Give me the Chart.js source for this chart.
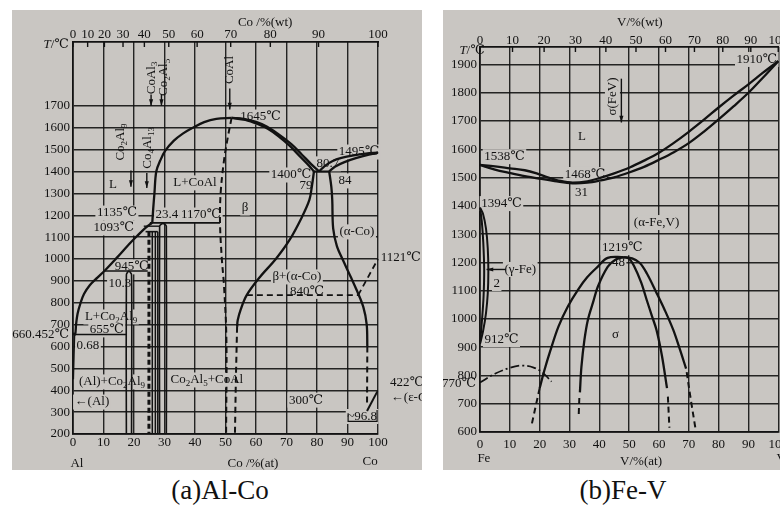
<!DOCTYPE html>
<html>
<head>
<meta charset="utf-8">
<script src="https://cdn.jsdelivr.net/npm/chart.js"></script>
<style>
  html, body { margin: 0; padding: 0; }
  body { width: 780px; height: 507px; overflow: hidden; position: relative; background: #fff; }
  .panel { position: absolute; top: 10px; height: 460px; background: #c9c6c2; }
  #pa { left: 12px; width: 410px; }
  #pb { left: 443px; width: 350px; }
  canvas { position: absolute; top: 10px; }
  #chartA { left: 12px; }
  #chartB { left: 443px; }
  .cap { position: absolute; top: 474px; width: 200px; text-align: center;
         font-family: 'Liberation Serif', serif; font-size: 27px; color: #111; line-height: 32px; }
</style>
</head>
<body>
<div class="panel" id="pa"></div>
<div class="panel" id="pb"></div>
<canvas id="chartA" width="410" height="460"></canvas>
<canvas id="chartB" width="350" height="460"></canvas>
<div class="cap" style="left:120px">(a)Al-Co</div>
<div class="cap" style="left:523px">(b)Fe-V</div>

<script>
// axes
const atTicks = [0, 10, 20, 30, 40, 50, 60, 70, 80, 90, 100];
const wtTickLabels = ['0', '10', '20', '30', '40', '50', '60', '70', '80', '90', '100'];
const coWtPos = [0, 4.8, 10.3, 16.4, 23.4, 31.4, 40.7, 51.7, 64.7, 80.5, 100];   // wt% Co ticks on the at% scale
const vWtPos = [0, 10.9, 21.5, 32, 42.2, 52.3, 62.2, 71.9, 81.4, 90.8, 100];      // wt% V ticks on the at% scale
const alTempTicks = [200, 300, 400, 500, 600, 700, 800, 900, 1000, 1100, 1200, 1300, 1400, 1500, 1600, 1700];
const feTempTicks = [600, 700, 800, 900, 1000, 1100, 1200, 1300, 1400, 1500, 1600, 1700, 1800, 1900];

// (a) Al-Co : [at% Co, T]
const alLiqLow = [[0, 660], [0.68, 655], [1, 700], [1.5, 750], [2.5, 800], [3.6, 840], [5.5, 880], [8, 915], [10.3, 945], [13, 985], [15.5, 1023], [18, 1062], [21, 1105], [23.4, 1138], [25.2, 1158], [26, 1166]];
const alLiqHigh = [[26, 1166], [26.3, 1230], [26.7, 1300], [27.3, 1400], [28.6, 1450], [30.2, 1494], [33, 1540], [36, 1573], [39.3, 1600], [43, 1626], [47, 1641], [52, 1645]];
const betaLiq = [[52, 1645], [56, 1641], [60, 1627], [63.5, 1606], [67, 1574], [71.5, 1526], [75, 1478], [78, 1435], [80.7, 1400]];
const betaSol = [[52, 1645], [56.5, 1636], [60.5, 1617], [64, 1594], [67.5, 1560], [71, 1518], [74.5, 1468], [77.3, 1428], [79, 1400]];
const coLiq = [[80.7, 1400], [82.5, 1425], [85, 1447], [88, 1462], [92, 1474], [96, 1482], [100, 1486]];
const coSol = [[84, 1400], [86, 1423], [89, 1443], [93, 1462], [97, 1477], [100, 1486]];
const line1400 = [[79, 1400], [84, 1400]];
const betaRight = [[79, 1400], [78.3, 1330], [77.5, 1270], [75, 1190], [71, 1087], [66.5, 1000], [61.3, 918], [57, 836], [55, 770], [54, 720], [53.8, 690]];
const betaRightDash = [[53.8, 690], [53.4, 450], [53.1, 200]];
const betaLeftDash = [[52, 1645], [50.8, 1560], [49.5, 1450], [48.4, 1300], [48.2, 1165], [48.8, 1000], [49.5, 880], [50.3, 630], [50.2, 200]];
const coAlpha = [[84, 1400], [84.7, 1330], [85, 1270], [85.3, 1140], [86.5, 1060], [88.5, 995], [91, 920], [93, 858], [95.2, 780], [96.3, 700], [96.5, 600]];
const coAlphaDash = [[96.5, 600], [96.4, 330]];
const coEps = [[96.4, 305], [99.8, 395]];
const line840 = [[57, 835], [93.5, 835]];
const curieCo = [[93.5, 835], [100, 1000]];
const co2al9 = [[17.5, 200], [17.5, 928], [18.3, 945], [19.2, 928], [19.2, 200]];
const line945 = [[10.3, 945], [24.5, 945]];
const line655 = [[0.68, 655], [17.5, 655]];
const line1170 = [[25.2, 1165], [48.2, 1165]];
const line1135 = [[23.2, 1150], [28.4, 1150]];
const co4al13Top = [[23.8, 1125], [27.8, 1125]];
const co4al13A = [[26, 1125], [26, 200]];
const co4al13B = [[27, 1125], [27, 200]];
const co4al13C = [[27.8, 1125], [27.8, 200]];
const co4al13Dash = [[24.9, 1125], [24.9, 200]];
const co2al5 = [[28.4, 200], [28.4, 1150], [29.5, 1163], [30.6, 1150], [30.6, 200]];
const alSolvus = [[0.5, 655], [0.3, 560], [0.1, 450]];
const bracket968 = [[90.2, 295], [90.2, 258], [99.7, 258], [99.7, 310]];

// (b) Fe-V : [at% V, T]
const feLiq = [[0, 1545], [5, 1540], [10, 1533], [15, 1526], [19, 1515], [23, 1500], [27, 1488], [31, 1482], [36, 1487], [40, 1498], [45, 1515], [50, 1535], [55, 1560], [60, 1588], [65, 1623], [70, 1662], [75, 1704], [80, 1748], [85, 1790], [90, 1830], [95, 1872], [100, 1912]];
const feSol = [[0, 1545], [5, 1528], [10, 1516], [15, 1505], [20, 1496], [25, 1488], [31, 1480], [36, 1482], [40, 1489], [45, 1501], [50, 1518], [55, 1538], [60, 1563], [65, 1590], [70, 1622], [75, 1662], [80, 1706], [85, 1752], [90, 1800], [95, 1855], [100, 1912]];
const gammaOuter = [[0, 1394], [1, 1372], [2, 1320], [2.6, 1250], [2.8, 1170], [2.6, 1090], [2, 1020], [1, 955], [0, 912]];
const gammaInner = [[0, 1394], [0.6, 1345], [1.1, 1270], [1.4, 1175], [1.2, 1080], [0.7, 1000], [0, 912]];
const magnetic = [[0, 775], [5, 806], [10, 827], [14, 835], [18, 828], [21, 810], [24, 778]];
const sigOutL = [[48, 1219], [42.8, 1216], [39.5, 1185], [36, 1148], [32.9, 1104], [29.5, 1045], [26.3, 973], [23.5, 885], [21.5, 815], [20, 755]];
const sigOutLDash = [[20, 755], [17.2, 620]];
const sigInL = [[48, 1219], [45.5, 1210], [42.8, 1184], [39.5, 1114], [38, 1062], [36.2, 998], [35, 925], [34, 830], [33.5, 740]];
const sigInLDash = [[33.3, 720], [33.1, 660]];
const sigInR = [[48, 1219], [50, 1213], [51.6, 1188], [54, 1130], [55.9, 1067], [57.6, 1012], [59.2, 960], [61, 870], [62.7, 755]];
const sigInRDash = [[63, 725], [63.5, 615]];
const sigOutR = [[48, 1219], [51, 1214], [53.6, 1198], [56, 1160], [59.2, 1092], [62, 1030], [64.8, 961], [67, 893], [69.1, 824]];
const sigOutRDash = [[69.3, 812], [70.6, 720], [72.2, 615]];

const FONT = "'Liberation Serif', 'DejaVu Serif', serif";
const INK = '#121212';
const PANEL = '#c9c6c2';
const GRID = 'rgba(18,18,18,0.9)';

function curve(pts, w, dash, tension) {
  return {
    data: pts.map(p => ({ x: p[0], y: p[1] })),
    showLine: true, borderColor: INK, borderWidth: w, borderDash: dash || [],
    pointRadius: 0, tension: tension === undefined ? 0.35 : tension, fill: false, clip: 6
  };
}

// text with _sub digits, flags: l/r align, b background, v vertical, i italic first char
function drawText(ctx, str, x, y, flags) {
  const size = 13, sub = 9;
  const parts = [];
  if (flags.includes('i')) { parts.push([str[0], 'i']); str = str.slice(1); }
  str.replace(/_(\d+)|([^_]+)/g, (m, s, t) => { parts.push(s ? [s, 's'] : [t, 'n']); return m; });
  const fontOf = k => k === 's' ? sub + 'px ' + FONT : (k === 'i' ? 'italic ' : '') + size + 'px ' + FONT;
  let w = 0;
  parts.forEach(p => { ctx.font = fontOf(p[1]); p.push(ctx.measureText(p[0]).width); w += p[2]; });
  let x0 = flags.includes('l') ? x : flags.includes('r') ? x - w : x - w / 2;
  if (flags.includes('b')) { ctx.fillStyle = PANEL; ctx.fillRect(x0 - 1.5, y - 7.5, w + 3, 15); }
  ctx.fillStyle = INK; ctx.textAlign = 'left'; ctx.textBaseline = 'middle';
  parts.forEach(p => { ctx.font = fontOf(p[1]); ctx.fillText(p[0], x0, p[1] === 's' ? y + 4 : y); x0 += p[2]; });
}

function notesPlugin(items, arrows) {
  return {
    id: 'notes',
    beforeDatasetsDraw(chart) {
      const ctx = chart.ctx, sx = chart.scales.x, sy = chart.scales.y;
      ctx.save();
      items.forEach(it => {
        const px = sx.getPixelForValue(it[1]), py = sy.getPixelForValue(it[2]);
        const f = it[3] || '';
        if (f.includes('v')) {
          ctx.save(); ctx.translate(px, py); ctx.rotate(-Math.PI / 2);
          drawText(ctx, it[0], 0, 0, f); ctx.restore();
        } else drawText(ctx, it[0], px, py, f);
      });
      ctx.restore();
    },
    afterDraw(chart) {
      const ctx = chart.ctx, sx = chart.scales.x, sy = chart.scales.y, s2 = chart.scales.x2;
      const top = chart.chartArea.top;
      ctx.save();
      ctx.strokeStyle = INK; ctx.fillStyle = INK; ctx.lineWidth = 1.4;
      s2.ticks.forEach(t => {
        const p = s2.getPixelForValue(t.value);
        ctx.beginPath(); ctx.moveTo(p, top); ctx.lineTo(p, top + 5); ctx.stroke();
      });
      arrows.forEach(a => {
        const x1 = sx.getPixelForValue(a[0]), y1 = sy.getPixelForValue(a[1]);
        const x2 = sx.getPixelForValue(a[2]), y2 = sy.getPixelForValue(a[3]);
        ctx.beginPath(); ctx.moveTo(x1, y1); ctx.lineTo(x2, y2); ctx.stroke();
        const ang = Math.atan2(y2 - y1, x2 - x1);
        ctx.beginPath(); ctx.moveTo(x2, y2);
        ctx.lineTo(x2 - 7 * Math.cos(ang - 0.3), y2 - 7 * Math.sin(ang - 0.3));
        ctx.lineTo(x2 - 7 * Math.cos(ang + 0.3), y2 - 7 * Math.sin(ang + 0.3));
        ctx.closePath(); ctx.fill();
      });
      ctx.restore();
    }
  };
}

function scalesFor(cfg) {
  const tickFont = { family: FONT, size: 13 };
  const border = { display: true, color: INK, width: 1.7 };
  return {
    x: {
      type: 'linear', position: 'bottom', min: 0, max: 100,
      afterBuildTicks: s => { s.ticks = atTicks.map(v => ({ value: v })); },
      afterFit: s => { s.height = cfg.bottom; },
      grid: { color: GRID, lineWidth: 1.4, drawTicks: false }, border,
      ticks: { font: tickFont, color: INK, padding: cfg.xPad, autoSkip: false, maxRotation: 0,
               callback: v => String(v) }
    },
    x2: {
      type: 'linear', position: 'top', min: 0, max: 100,
      afterBuildTicks: s => { s.ticks = cfg.wtPos.map(v => ({ value: v })); },
      afterFit: s => { s.height = cfg.top; },
      grid: { display: false, drawTicks: false }, border,
      ticks: { font: tickFont, color: INK, padding: cfg.x2Pad, autoSkip: false, maxRotation: 0,
               callback: (v, i) => wtTickLabels[i] }
    },
    y: {
      type: 'linear', min: cfg.ymin, max: cfg.ymax,
      afterBuildTicks: s => { s.ticks = cfg.yTicks.map(v => ({ value: v })); },
      afterFit: s => { s.width = cfg.left; },
      grid: { color: GRID, lineWidth: 1.4, drawTicks: false }, border,
      ticks: { font: tickFont, color: INK, padding: 3, callback: v => String(v) }
    }
  };
}

const dash = [6, 4];

const alNotes = [
  ['Co /%(wt)', 63, 2080, ''],
  ['T/℃', -5.5, 1980, 'i'],
  ['CoAl_3', 25.6, 1828, 'v'],
  ['Co_2Al_5', 29.6, 1830, 'v'],
  ['CoAl', 51.2, 1864, 'v'],
  ['Co_2Al_9', 15.5, 1535, 'v'],
  ['Co_4Al_13', 24.5, 1508, 'v'],
  ['1645℃', 61.5, 1649, 'b'],
  ['1495℃', 93.8, 1489, 'b'],
  ['80.7', 83.6, 1435, 'b'],
  ['1400℃', 71.5, 1384, 'b'],
  ['79', 76.4, 1334, ''],
  ['84', 89.2, 1357, 'b'],
  ['L', 13.1, 1338, 'b'],
  ['L+CoAl', 40, 1348, 'b'],
  ['β', 56.4, 1233, 'b'],
  ['1135℃', 14.4, 1210, 'b'],
  ['1093℃', 13.4, 1142, 'b'],
  ['23.4', 30.8, 1201, 'b'],
  ['1170℃', 42, 1201, 'b'],
  ['(α-Co)', 93.1, 1124, 'b'],
  ['1121℃', 107.5, 1005, ''],
  ['945℃', 19.3, 964, 'b'],
  ['10.3', 15.4, 886, 'b'],
  ['β+(α-Co)', 73.4, 918, 'b'],
  ['840℃', 76.7, 852, 'b'],
  ['L+Co_2Al_9', 12.5, 735, 'b'],
  ['655℃', 11.1, 676, 'b'],
  ['660.452℃', -1.3, 653, 'r'],
  ['0.68', 4.9, 602, 'b'],
  ['(Al)+Co_2Al_9', 12.8, 438, 'b'],
  ['Co_2Al_5+CoAl', 43.9, 447, 'b'],
  ['←(Al)', 6.2, 346, 'b'],
  ['300℃', 76.4, 355, 'b'],
  ['422℃', 103.9, 433, 'l'],
  ['←(ε-Co', 104.2, 365, 'l'],
  ['~96.8', 94.8, 280, 'b'],
  ['Al', 1.3, 67, ''],
  ['Co /%(at)', 59, 67, ''],
  ['Co', 97.4, 72, '']
];
const alArrows = [
  [25.6, 1752, 25.6, 1700], [29, 1752, 29, 1700], [51.4, 1780, 51.4, 1684],
  [19, 1405, 19, 1330], [24.2, 1393, 24.2, 1325]
];

const feNotes = [
  ['V/%(wt)', 53.6, 2050, ''],
  ['T/℃', 1.6, 1950, 'ir'],
  ['1910℃', 92.8, 1918, 'b'],
  ['1538℃', 8.2, 1574, 'b'],
  ['L', 34.2, 1645, 'b'],
  ['1468℃', 35.2, 1511, 'b'],
  ['31', 34, 1447, 'b'],
  ['1394℃', 7.2, 1408, 'b'],
  ['(γ-Fe)', 13.5, 1175, 'b'],
  ['2', 5.6, 1125, 'b'],
  ['912℃', 7.2, 927, 'b'],
  ['770℃', -1.3, 771, 'r'],
  ['(α-Fe,V)', 59.2, 1341, 'b'],
  ['1219℃', 47.7, 1252, 'b'],
  ['48', 46.4, 1199, 'b'],
  ['σ', 45.4, 945, 'b'],
  ['σ(FeV)', 44.4, 1787, 'vb'],
  ['Fe', 1.3, 506, ''],
  ['V/%(at)', 54, 495, ''],
  ['V', 101, 506, '']
];
const feArrows = [[47.4, 1850, 47.4, 1695], [8.6, 1175, 2.2, 1175]];

new Chart(document.getElementById('chartA'), {
  type: 'scatter',
  data: {
    datasets: [
      curve(alLiqLow, 2.3), curve(alLiqHigh, 2.3), curve(betaLiq, 2.3), curve(betaSol, 2.3),
      curve(coLiq, 2.3), curve(coSol, 2.3), curve(line1400, 2, null, 0),
      curve(betaRight, 2.3), curve(betaRightDash, 2, dash, 0), curve(betaLeftDash, 2, dash),
      curve(coAlpha, 2.3), curve(coAlphaDash, 2, dash, 0), curve(coEps, 2, null, 0),
      curve(line840, 1.8, dash, 0), curve(curieCo, 1.8, dash, 0),
      curve(co2al9, 1.6, null, 0.2), curve(line945, 1.6, null, 0), curve(line655, 1.6, null, 0),
      curve(line1170, 1.6, null, 0), curve(line1135, 1.4, null, 0), curve(co4al13Top, 1.6, null, 0),
      curve(co4al13A, 1.5, null, 0), curve(co4al13B, 1.5, null, 0), curve(co4al13C, 1.5, null, 0),
      curve(co4al13Dash, 3, [5, 3], 0), curve(co2al5, 1.6, null, 0.2),
      curve(alSolvus, 1.6), curve(bracket968, 1.2, null, 0)
    ]
  },
  options: {
    responsive: false, animation: false, devicePixelRatio: 1,
    layout: { padding: { left: 0, top: 0, right: 44, bottom: 0 } },
    plugins: { legend: { display: false }, tooltip: { enabled: false } },
    scales: scalesFor({ bottom: 36, top: 32, left: 61, xPad: 1, x2Pad: 0, wtPos: coWtPos,
                        ymin: 200, ymax: 1992, yTicks: alTempTicks })
  },
  plugins: [notesPlugin(alNotes, alArrows)]
});

new Chart(document.getElementById('chartB'), {
  type: 'scatter',
  data: {
    datasets: [
      curve(feLiq, 2.3), curve(feSol, 2.3), curve(gammaOuter, 2), curve(gammaInner, 2),
      curve(magnetic, 1.8, [9, 3, 2, 3]),
      curve(sigOutL, 2.3), curve(sigOutLDash, 2, dash, 0), curve(sigInL, 2.3), curve(sigInLDash, 2, dash, 0),
      curve(sigInR, 2.3), curve(sigInRDash, 2, dash, 0), curve(sigOutR, 2.3), curve(sigOutRDash, 2, dash)
    ]
  },
  options: {
    responsive: false, animation: false, devicePixelRatio: 1,
    layout: { padding: { left: 0, top: 0, right: 9, bottom: 0 } },
    plugins: { legend: { display: false }, tooltip: { enabled: false } },
    scales: scalesFor({ bottom: 38, top: 37, left: 37, xPad: 5, x2Pad: -1, wtPos: vWtPos,
                        ymin: 600, ymax: 1962, yTicks: feTempTicks })
  },
  plugins: [notesPlugin(feNotes, feArrows)]
});
</script>
</body>
</html>
